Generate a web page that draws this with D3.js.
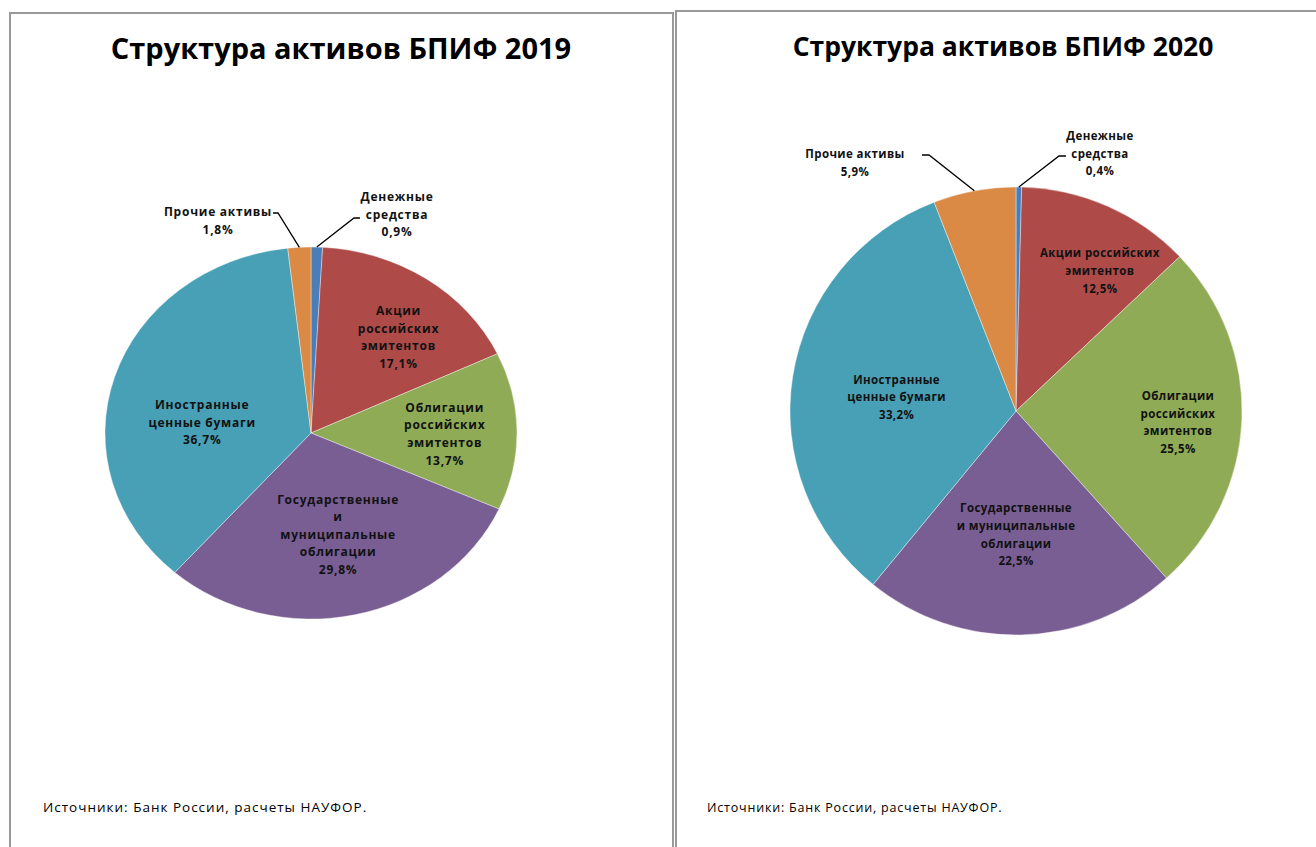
<!DOCTYPE html>
<html>
<head>
<meta charset="utf-8">
<script src="https://cdn.jsdelivr.net/npm/d3@7"></script>
<style>
  body { margin: 0; background: #fff; }
  svg { display: block; }
</style>
</head>
<body>
<div id="chart"></div>
<script>
var width = 1316;
var height = 847;

// data
var categories = ["Денежные средства", "Акции российских эмитентов", "Облигации российских эмитентов",
  "Государственные и муниципальные облигации", "Иностранные ценные бумаги", "Прочие активы"];
var values2019 = [0.9, 17.1, 13.7, 29.8, 36.7, 1.8];
var values2020 = [0.4, 12.5, 25.5, 22.5, 33.2, 5.9];
var titles = ["Структура активов БПИФ 2019", "Структура активов БПИФ 2020"];
var sourceText = "Источники: Банк России, расчеты НАУФОР.";

// how the category names wrap in each chart
var lines2019 = [["Денежные", "средства"], ["Акции", "российских", "эмитентов"], ["Облигации", "российских", "эмитентов"],
  ["Государственные", "и", "муниципальные", "облигации"], ["Иностранные", "ценные бумаги"], ["Прочие активы"]];
var lines2020 = [["Денежные", "средства"], ["Акции российских", "эмитентов"], ["Облигации", "российских", "эмитентов"],
  ["Государственные", "и муниципальные", "облигации"], ["Иностранные", "ценные бумаги"], ["Прочие активы"]];

var colors = ["#4a7ebb", "#ae4b49", "#8fab55", "#795e94", "#48a0b7", "#da8a44"];

var svg = d3.select("#chart").append("svg")
    .attr("width", width)
    .attr("height", height)

// panels (the 2019 picture is a bit larger than the 2020 one)
var panels = [
  {x: 10, y: 13, w: 663, values: values2019, lines: lines2019, title: titles[0],
   cx: 311, cy: 433, rx: 206, ry: 186, titleX: 341, titleY: 59, titleSize: 29,
   srcX: 43, srcSize: 13.5, srcLs: 1, lblSize: 12, lblLs: 0.75,
   nudge: [null, [16, 0], [6, 2], [0, -11], [13, 24], null],
   leader: [[354, 218, 360], null, null, null, null, [278, 213, 273]],
   outText: [[397, 197], null, null, null, null, [218, 212]]},
  {x: 676, y: 11, w: 660, values: values2020, lines: lines2020, title: titles[1],
   cx: 1016, cy: 411, rx: 226, ry: 224, titleX: 1003, titleY: 56, titleSize: 26.5,
   srcX: 707, srcSize: 12.5, srcLs: 0.8, lblSize: 11.5, lblLs: 0.4,
   nudge: [null, [27, -13], [22, 6], [-3, -15], [19, 8], null],
   leader: [[1059, 156, 1066], null, null, null, null, [929, 155, 922]],
   outText: [[1100, 136], null, null, null, null, [855, 154]]}
];

var pie = d3.pie().sort(null).value(function(d) { return d; });
var lh = 17.6;

panels.forEach(function(p) {
  var g = svg.append("g");

  g.append("path")
    .attr("d", "M" + p.x + "," + (height + 5) + "V" + p.y + "H" + (p.x + p.w) + "V" + (height + 5))
    .attr("fill", "none")
    .attr("stroke", "#999")
    .attr("stroke-width", 2)

  g.append("text")
    .attr("x", p.titleX)
    .attr("y", p.titleY)
    .attr("text-anchor", "middle")
    .style("font-family", "'Open Sans', sans-serif")
    .style("font-weight", "bold")
    .style("font-size", p.titleSize + "px")
    .text(p.title)

  g.append("text")
    .attr("x", p.srcX)
    .attr("y", 812)
    .style("font-family", "'Open Sans', sans-serif")
    .style("font-size", p.srcSize + "px")
    .style("letter-spacing", p.srcLs + "px")
    .text(sourceText)

  var arcs = pie(p.values);
  var arc = d3.arc().innerRadius(0).outerRadius(p.rx);

  g.append("g")
    .attr("transform", "translate(" + p.cx + "," + p.cy + ") scale(1," + (p.ry / p.rx) + ")")
    .selectAll("path")
    .data(arcs)
    .enter()
    .append("path")
    .attr("d", arc)
    .attr("fill", function(d, i) { return colors[i]; })
    .attr("stroke", "#fff")
    .attr("stroke-opacity", 0.5)
    .attr("stroke-width", 0.8)

  function pt(a, f) {
    return [p.cx + Math.sin(a) * p.rx * f, p.cy - Math.cos(a) * p.ry * f];
  }

  arcs.forEach(function(d, i) {
    var mid = (d.startAngle + d.endAngle) / 2;
    var rows = p.lines[i].concat([d3.format(".1f")(d.value).replace(".", ",") + "%"]);
    var lx, ly;
    if (p.nudge[i]) {
      var c = pt(mid, 0.62);
      lx = c[0] + p.nudge[i][0];
      ly = c[1] + p.nudge[i][1] - (rows.length - 1) * lh / 2;
    } else {
      lx = p.outText[i][0];
      ly = p.outText[i][1];
      var e = pt(mid, 1);
      var L = p.leader[i];
      g.append("path")
        .attr("d", "M" + e[0] + "," + e[1] + "L" + L[0] + "," + L[1] + "H" + L[2])
        .attr("fill", "none")
        .attr("stroke", "#000")
        .attr("stroke-width", 1.3)
    }
    var t = g.append("text")
      .attr("text-anchor", "middle")
      .style("font-family", "'Open Sans', sans-serif")
      .style("font-weight", "bold")
      .style("font-size", p.lblSize + "px")
      .style("letter-spacing", p.lblLs + "px")
      .attr("fill", "#111")
    rows.forEach(function(r, k) {
      t.append("tspan")
        .attr("x", lx)
        .attr("y", ly + k * lh)
        .attr("dy", "0.35em")
        .text(r)
    })
  })
})
</script>
</body>
</html>
